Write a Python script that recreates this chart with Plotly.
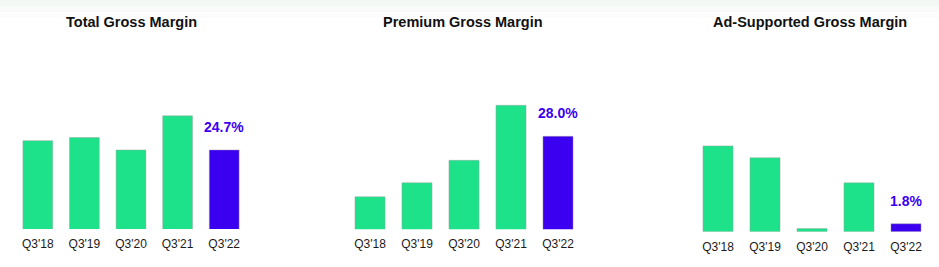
import plotly.graph_objects as go

quarters = ["Q3'18", "Q3'19", "Q3'20", "Q3'21", "Q3'22"]
total_margin = [25.3, 25.5, 24.7, 26.9, 24.7]
premium_margin = [24.1, 25.0, 26.45, 30.0, 28.0]
ad_margin = [19.5, 16.8, 0.7, 11.1, 1.8]
titles = ["Total Gross Margin", "Premium Gross Margin", "Ad-Supported Gross Margin"]
labels = ["24.7%", "28.0%", "1.8%"]

W, H = 939, 267
GREEN = "#1de28a"
PURPLE = "#3b00ef"
FONT = "Liberation Sans, Arial, sans-serif"

panels = [
    # (values, x-domain px, baseline px, axis base value, px per unit, title x px)
    (total_margin, (14.5, 247.5), 229.0, 19.6, 15.5, 131),
    (premium_margin, (346.5, 581.5), 229.3, 22.0, 15.5, 463),
    (ad_margin, (694.5, 929.5), 231.7, 0.0, 4.4, 810),
]
TOP_PX = 40

fig = go.Figure()
layout = dict(
    width=W, height=H, margin=dict(l=0, r=0, t=0, b=0),
    paper_bgcolor="white", plot_bgcolor="rgba(0,0,0,0)",
    showlegend=False, template="none",
    font=dict(family=FONT),
    bargap=0.36,
)
annotations = []
for i, (vals, (x0, x1), base_px, base_val, scale, tx) in enumerate(panels):
    n = "" if i == 0 else str(i + 1)
    colors = [GREEN] * (len(vals) - 1) + [PURPLE]
    fig.add_trace(go.Bar(
        x=quarters, y=vals,
        marker=dict(color=colors, line=dict(color="rgba(160,160,160,0.45)", width=1)),
        xaxis="x" + n, yaxis="y" + n, hoverinfo="skip",
    ))
    ydom = (1 - base_px / H, 1 - TOP_PX / H)
    top_val = base_val + (base_px - TOP_PX) / scale
    layout["xaxis" + n] = dict(
        domain=[x0 / W, x1 / W], anchor="y" + n, showgrid=False, zeroline=False,
        showline=False, ticks="", automargin=False,
        tickfont=dict(size=12, color="#1a1a1a", family=FONT),
        ticklabelstandoff=6,
    )
    layout["yaxis" + n] = dict(
        domain=list(ydom), anchor="x" + n, range=[base_val, top_val],
        visible=False, automargin=False,
    )
    annotations.append(dict(
        text="<b>" + titles[i] + "</b>", x=tx / W, y=1 - 22 / H, xref="paper", yref="paper",
        showarrow=False, xanchor="center", yanchor="middle",
        font=dict(size=14.5, color="#111111", family=FONT),
    ))
    annotations.append(dict(
        text="<b>" + labels[i] + "</b>", x=quarters[-1], y=vals[-1],
        xref="x" + n, yref="y" + n, showarrow=False, yanchor="middle", yshift=23,
        font=dict(size=14, color=PURPLE, family=FONT),
    ))

layout["annotations"] = annotations
layout["shapes"] = [
    dict(type="rect", xref="paper", yref="paper", x0=0, x1=1, y0=1 - 6 / H, y1=1,
         fillcolor="#f4f8f5", line=dict(width=0), layer="below"),
    dict(type="rect", xref="paper", yref="paper", x0=0, x1=1, y0=1 - 12 / H, y1=1 - 6 / H,
         fillcolor="#f8fbf9", line=dict(width=0), layer="below"),
    dict(type="rect", xref="paper", yref="paper", x0=0, x1=1, y0=1 - 18 / H, y1=1 - 12 / H,
         fillcolor="#fcfdfc", line=dict(width=0), layer="below"),
]
fig.update_layout(**layout)
fig.write_html("out.html")
